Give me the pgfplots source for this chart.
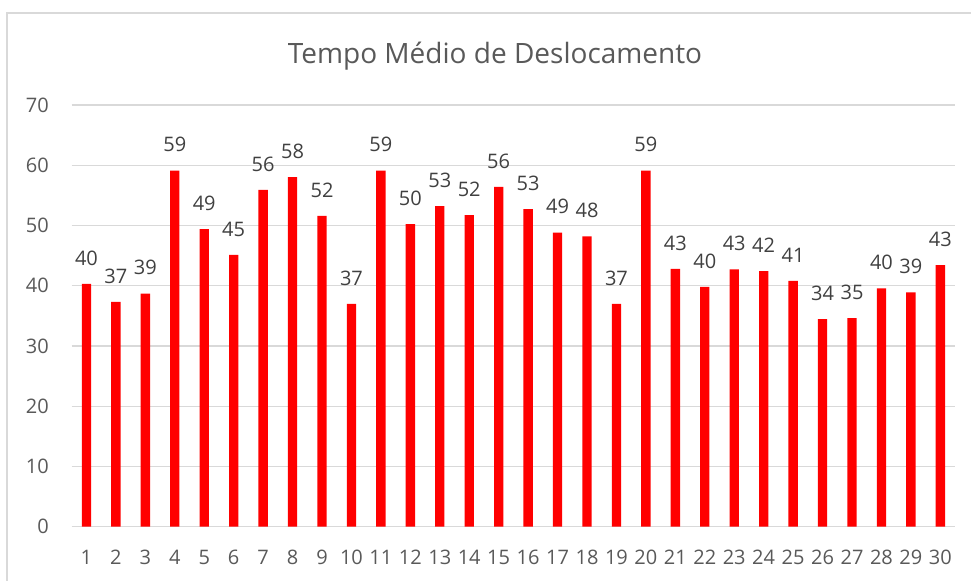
\documentclass[border=0pt]{standalone}
\usepackage{pgfplots}
\pgfplotsset{compat=1.18}
\usepackage{fontspec}
\setmainfont{Open Sans}
\definecolor{gridc}{HTML}{D9D9D9}
\definecolor{tickc}{HTML}{595959}
\definecolor{labc}{HTML}{404040}
\definecolor{barc}{HTML}{FF0000}
\begin{document}
\begin{tikzpicture}
\path[use as bounding box] (0,0) rectangle (728.25pt,-435.75pt);
\draw[gridc, line width=0.9pt] (5.25pt,-440pt) -- (5.25pt,-9.75pt) -- (735pt,-9.75pt);
\node[anchor=base, text=tickc, font=\fontsize{21}{26}\selectfont] at (371.25pt,-47.5pt) {Tempo Médio de Deslocamento};
\begin{axis}[
  at={(53.8pt,-395pt)}, anchor=south west,
  scale only axis, width=662.5pt, height=316.3pt,
  xmin=0.5, xmax=30.5, ymin=0, ymax=70,
  xtick={1,...,30}, ytick={0,10,...,70},
  axis line style={draw=none},
  major tick length=0pt,
  ymajorgrids, major grid style={gridc, line width=0.9pt},
  /pgf/number format/assume math mode=true,
  ticklabel style={text=tickc, font=\fontsize{15}{18}\selectfont, inner sep=0pt},
  yticklabel style={anchor=east, xshift=-17pt},
  xticklabel style={anchor=north, yshift=-17.5pt},
  ybar, bar width=7pt, bar shift=0pt,
  nodes near coords,
  nodes near coords style={text=labc, font=\fontsize{15}{18}\selectfont, inner sep=0pt, anchor=south, yshift=13.7pt, /pgf/number format/fixed, /pgf/number format/precision=0, /pgf/number format/assume math mode=true},
]
\addplot[fill=barc, draw=none] coordinates {
(1,40.3) (2,37.3) (3,38.7) (4,59.1) (5,49.4) (6,45.1) (7,55.9) (8,58.0) (9,51.6) (10,37.0)
(11,59.1) (12,50.2) (13,53.2) (14,51.7) (15,56.4) (16,52.7) (17,48.8) (18,48.2) (19,37.0) (20,59.1)
(21,42.8) (22,39.8) (23,42.7) (24,42.4) (25,40.8) (26,34.45) (27,34.6) (28,39.55) (29,38.9) (30,43.4)
};
\end{axis}
\end{tikzpicture}
\end{document}
